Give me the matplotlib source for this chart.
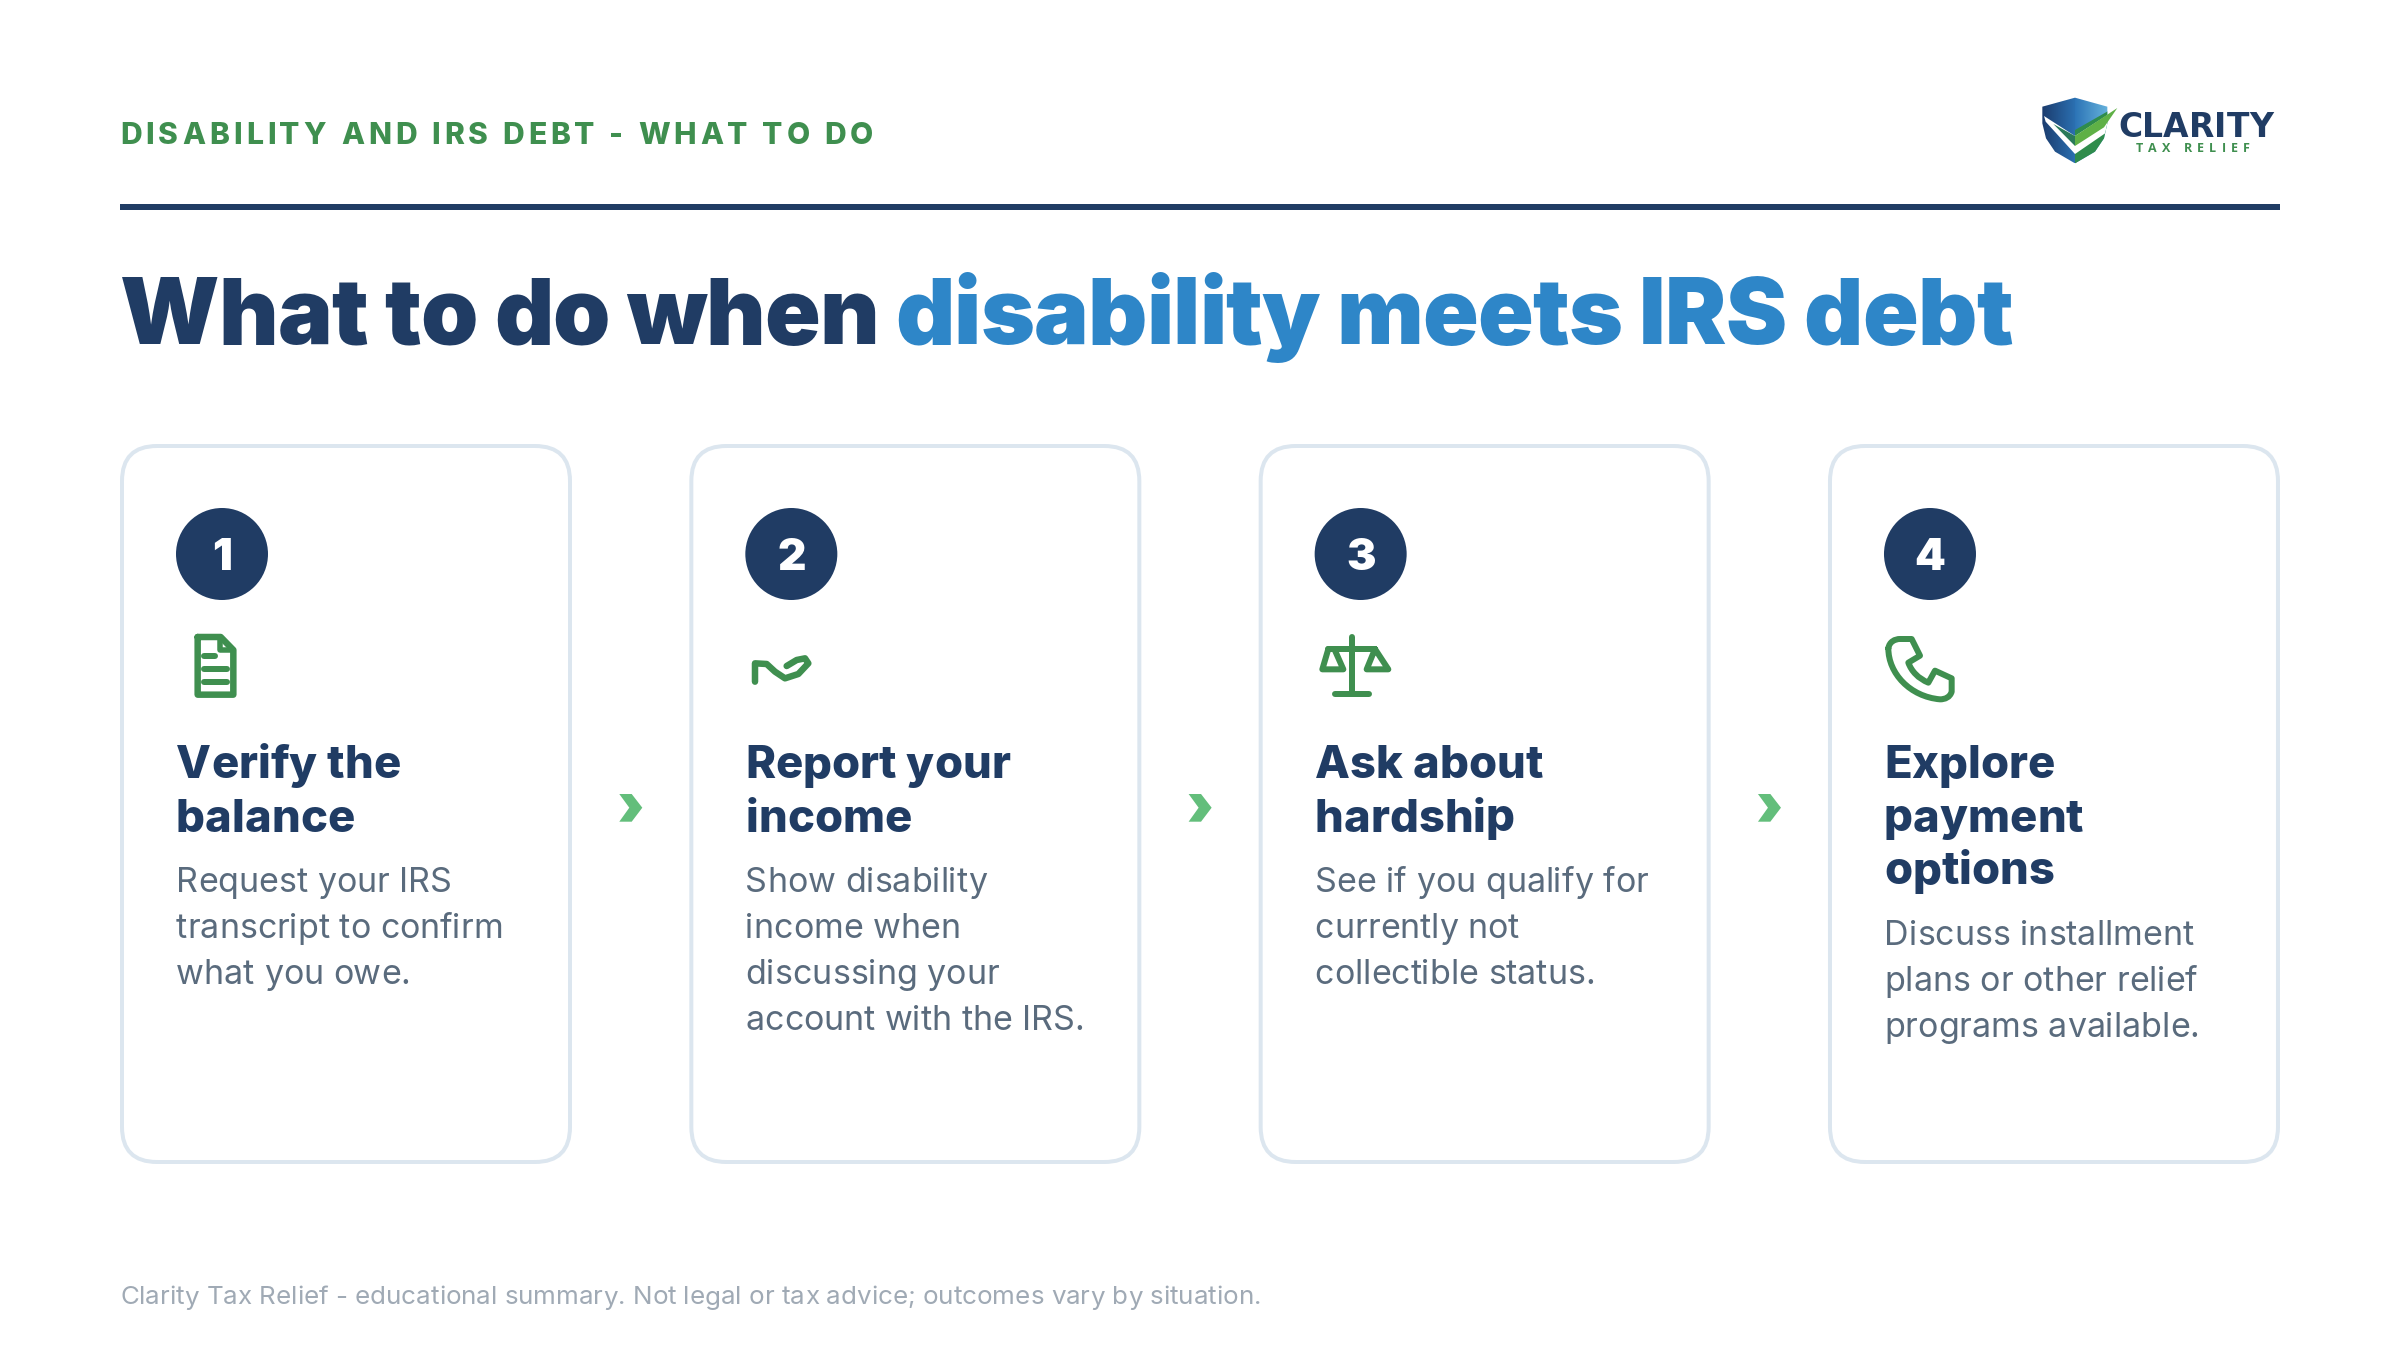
import matplotlib
matplotlib.use("Agg")
import numpy as np
import matplotlib.pyplot as plt
from matplotlib.patches import FancyBboxPatch, Circle, Polygon, PathPatch
from matplotlib.path import Path
from matplotlib.text import Text
from matplotlib.transforms import IdentityTransform
from matplotlib.font_manager import FontProperties, findfont
from matplotlib.ft2font import LoadFlags
from matplotlib import font_manager as fm

kicker = "DISABILITY AND IRS DEBT - WHAT TO DO"
title_dark = "What to do when "
title_blue = "disability meets IRS debt"
numbers = ["1", "2", "3", "4"]
headings = [["Verify the", "balance"], ["Report your", "income"],
            ["Ask about", "hardship"], ["Explore", "payment", "options"]]
bodies = [["Request your IRS", "transcript to confirm", "what you owe."],
          ["Show disability", "income when", "discussing your", "account with the IRS."],
          ["See if you qualify for", "currently not", "collectible status."],
          ["Discuss installment", "plans or other relief", "programs available."]]
footer = "Clarity Tax Relief - educational summary. Not legal or tax advice; outcomes vary by situation."

NAVY, BLUE, GREEN, CHEV = "#203C64", "#2E86C8", "#3F8F4F", "#63BE7B"
BODY, FOOT, BORDER = "#5A6B7D", "#A0AAB5", "#DCE6EF"
PX = 0.72

fig = plt.figure(figsize=(24, 13.5), dpi=100, facecolor="white")
ax = fig.add_axes([0, 0, 1, 1])
ax.set_xlim(0, 2400); ax.set_ylim(1350, 0); ax.axis("off")


def advance(s, prop, tracking):
    font = fm.get_font(findfont(prop))
    font.set_size(prop.get_size_in_points(), 100)
    total = 0.0
    for ch in s:
        g = font.load_char(ord(ch), flags=LoadFlags.NO_HINTING)
        total += g.linearHoriAdvance / 65536 + tracking
    return total


class Tracked(Text):
    """One text object drawn with letter spacing (pixels)."""
    def __init__(self, x, y, s, tracking=0.0, **kw):
        super().__init__(x, y, s, **kw)
        self.tracking = tracking

    def draw(self, renderer):
        x0, y0 = self.get_transform().transform((self.get_position()))
        prop = self.get_fontproperties()
        x = x0
        for ch in self.get_text():
            if ch != " ":
                t = Text(x, y0, ch, fontproperties=prop, color=self.get_color(),
                         ha="left", va="baseline", transform=IdentityTransform())
                t.set_figure(self.get_figure())
                t.draw(renderer)
            x += advance(ch, prop, self.tracking)


def put(x, y, s, px, color, family="Inter", weight="normal", tracking=0.0):
    prop = FontProperties(family=family, weight=weight, size=px * PX)
    t = Tracked(x, y, s, tracking=tracking, fontproperties=prop, color=color,
                transform=ax.transData, ha="left", va="baseline")
    ax.add_artist(t)
    return advance(s, prop, tracking)


def stroke(pts, lw=5.0, closed=False, codes=None, fc="none"):
    path = Path(pts, codes, closed=False) if codes is not None else Path(pts)
    ax.add_patch(PathPatch(path, fc=fc, ec=GREEN, lw=lw * PX, capstyle="round",
                           joinstyle="round"))


# header
put(120, 144, kicker, 30, GREEN, weight=800, tracking=4.03)
ax.fill_between([120, 2280], 204, 210, color=NAVY, lw=0)
w = put(120, 344, title_dark, 92, NAVY, weight=900, tracking=-1.0)
put(120 + w, 344, title_blue, 92, BLUE, weight=900, tracking=-0.82)
put(120, 1304.5, footer, 25.97, FOOT)

# logo
def zx(v): return 2000 + v / 3
def zy(v): return 80 + v / 3
def lp(pts): return [(zx(a), zy(b)) for a, b in pts]

shield = Path(lp([(225, 53), (127, 80), (127, 130), (138, 175), (165, 215), (225, 250),
                  (285, 215), (312, 175), (322, 130), (322, 80), (225, 53)]))
shield_patch = PathPatch(shield, fc="none", ec="none")
ax.add_patch(shield_patch)
def grad(c0, c1, ext):
    c0 = np.array(matplotlib.colors.to_rgb(c0)); c1 = np.array(matplotlib.colors.to_rgb(c1))
    s = np.linspace(0, 1, 64)[None, :, None]
    arr = c0[None, None, :] * (1 - s) + c1[None, None, :] * s
    im = ax.imshow(arr, extent=ext, aspect="auto", zorder=3, interpolation="bilinear")
    im.set_clip_path(shield_patch)
    return im
grad("#1B3C6E", "#2B6FB0", (zx(127), zx(225), zy(250), zy(53)))
grad("#2C74B6", "#66B2DC", (zx(225), zx(322), zy(250), zy(53)))
def sh(pts, c, z=4):
    p = Polygon(lp(pts), closed=True, fc=c, ec="none", zorder=z)
    ax.add_patch(p)
    return p
low = sh([(225, 150), (330, 90), (330, 260), (225, 260)], "#2F8C4C")
low.set_clip_path(shield_patch)
w1 = sh([(132, 108), (225, 168), (330, 100), (330, 150), (225, 222), (137, 125)], "white", 5)
w1.set_clip_path(shield_patch)
sh([(160, 132), (225, 168), (225, 198)], "#2A7A5A", 6)
sh([(225, 168), (352, 84), (312, 142), (225, 198)], "#5FB046", 6)
ax.set_xlim(0, 2400); ax.set_ylim(1350, 0)
put(2118, 137, "CLARITY", 33, NAVY, family="DejaVu Sans", weight="bold")
put(2136, 152, "TAX RELIEF", 12.5, GREEN, family="Open Sans", weight="bold", tracking=5.1)

# cards
STEP = 569.33
card_x = [120 + STEP * i for i in range(4)]
CW, TOP, BOT = 452, 444, 1164
for i, x in enumerate(card_x):
    ax.add_patch(FancyBboxPatch((x + 2, TOP + 2), CW - 4, BOT - TOP - 4,
                                boxstyle="round,pad=0,rounding_size=35",
                                fc="white", ec=BORDER, lw=4 * PX))
    tx = x + 56
    ax.add_patch(Circle((x + 102, 554), 46, fc=NAVY, ec="none"))
    ax.text(x + 102, 570, numbers[i], ha="center", va="baseline", color="white",
            family="Inter", weight=900, fontsize=44 * PX)
    y = 778.5
    for line in headings[i]:
        put(tx, y, line, 45.4, NAVY, weight=800)
        y += 53
    y += 7.5
    for line in bodies[i]:
        put(tx, y, line, 34, BODY)
        y += 46

# chevrons
chev = np.array([(0, 0), (12.4, 0), (23, 13.7), (12.4, 27.7), (0, 27.7), (10, 13.7)])
for x in card_x[:3]:
    ax.add_patch(Polygon(chev + [x + 499.3, 794], closed=True, fc=CHEV, ec="none"))

# icons
def z(ox, pts): return [(ox + a / 3, 490 + b / 3) for a, b in pts]
# document
stroke(z(150, [(143, 441), (212, 441), (250, 480), (250, 614), (143, 614), (143, 441)]), lw=6.5)
stroke(z(150, [(210, 441), (210, 480), (250, 480)]), lw=5.5)
for a, b, yy in [(162, 195, 498), (162, 232, 537), (162, 232, 575)]:
    stroke(z(150, [(a, yy), (b, yy)]), lw=6)
# hand
hand = z(720, [(105, 575), (105, 520), (140, 522), (165, 545), (195, 565), (235, 552), (265, 520), (255, 505), (230, 510), (200, 528)])
stroke(hand, lw=6.5)
# scales
stroke(z(1290, [(185, 440), (185, 612)]), lw=6)
stroke(z(1290, [(135, 612), (238, 612)]), lw=6)
stroke(z(1290, [(115, 477), (255, 477)]), lw=6)
stroke(z(1290, [(115, 477), (97, 538), (160, 538), (133, 477)]), lw=6)
stroke(z(1290, [(255, 477), (230, 538), (295, 538), (255, 477)]), lw=6)
# phone
M, L, C4 = Path.MOVETO, Path.LINETO, Path.CURVE4
ph = z(1860, [(85, 475), (88, 455), (105, 447), (120, 447), (155, 447), (180, 497), (145, 518),
              (155, 545), (175, 565), (205, 578), (225, 542), (275, 565), (275, 605),
              (270, 622), (255, 628), (240, 628), (150, 620), (85, 550), (85, 475)])
codes = [M, C4, C4, C4, L, L, L, C4, C4, C4, L, L, L, C4, C4, C4, C4, C4, C4]
stroke(ph, lw=6, codes=codes)

fig.savefig("out.png", dpi=100, facecolor="white")
